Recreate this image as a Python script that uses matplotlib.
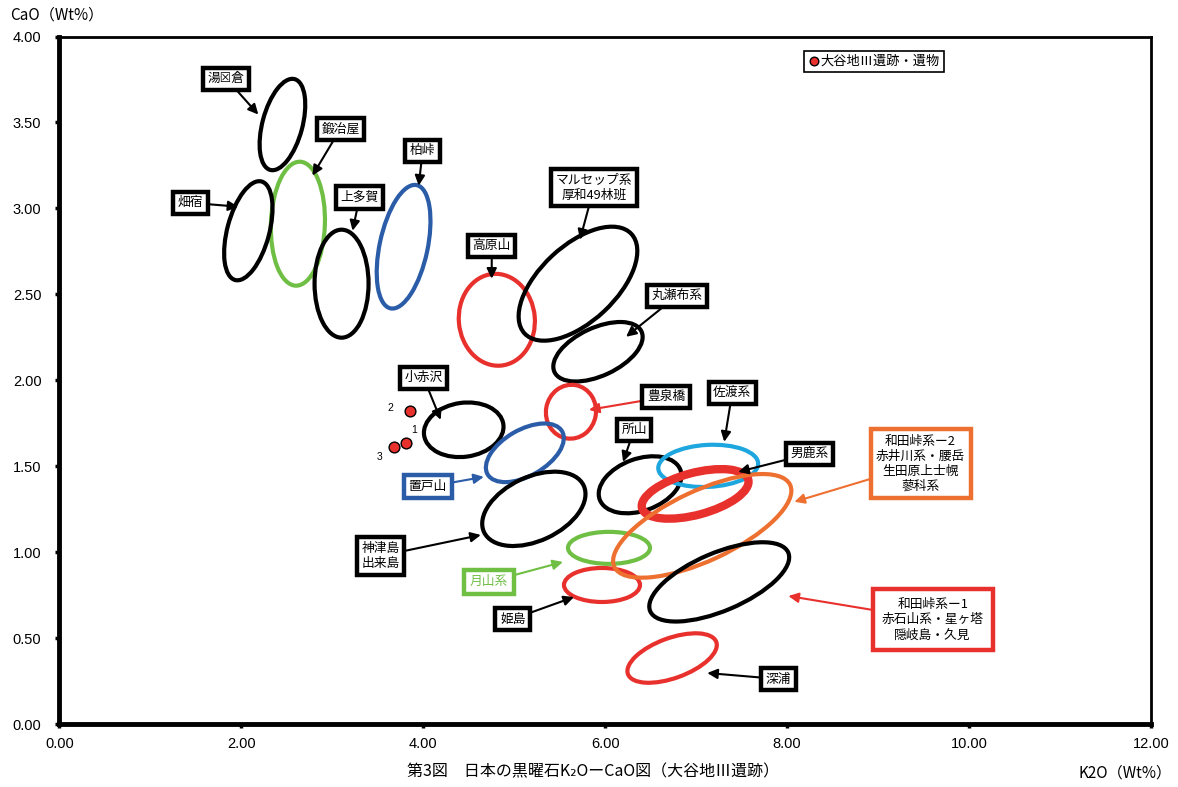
import matplotlib
matplotlib.use("Agg")
import matplotlib.pyplot as plt
from matplotlib.patches import Ellipse
from matplotlib.transforms import ScaledTranslation
import numpy as np

# ---------------- data ----------------
# obsidian source ellipses (K2O, CaO centres)
src_names = ["湯倉", "鍛冶屋", "畑宿", "上多賀", "柏峠", "高原山", "マルセップ系", "丸瀬布系",
             "豊泉橋", "小赤沢", "置戸山", "神津島", "月山系", "姫島", "所山", "佐渡系",
             "男鹿系", "和田峠系-2", "和田峠系-1", "深浦"]
src_k2o = [2.451, 2.621, 2.076, 3.101, 3.783, 4.808, 5.700, 5.920,
           5.623, 4.444, 5.116, 5.215, 6.041, 5.964, 6.383, 7.132,
           6.988, 7.066, 7.253, 6.735]
src_cao = [3.488, 2.911, 2.870, 2.562, 2.777, 2.352, 2.562, 2.166,
           1.817, 1.712, 1.578, 1.252, 1.025, 0.809, 1.392, 1.502,
           1.339, 1.153, 0.827, 0.384]
# ellipse semi-axes (display px) and tilt (deg)
src_a = [47, 62, 51, 54, 63, 46, 73, 48, 27, 40, 43, 55, 41, 38, 43, 50, 55, 97, 75, 47]
src_b = [20, 27, 21, 27, 24, 38, 38, 24, 25, 27, 23, 32, 16, 17, 26, 21, 21, 35, 29, 20]
src_ang = [75, 88, 75, 90, 78, 95, 43, 25, 80, 8, 30, 25, 0, 0, 20, 3, 15, 25, 23, 20]

# site artefacts
art_k2o = [3.806, 3.850, 3.673]
art_cao = [1.636, 1.822, 1.613]
art_no = ["1", "2", "3"]

# label texts, positions and arrow targets (data units)
lab_text = ["湯☒倉", "鍛冶屋", "畑宿", "上多賀", "柏峠", "高原山", "マルセップ系\n厚和49林班",
            "丸瀬布系", "豊泉橋", "佐渡系", "所山", "男鹿系",
            "和田峠系ー2\n赤井川系・腰岳\n生田原上士幌\n蓼科系",
            "和田峠系ー1\n赤石山系・星ヶ塔\n隠岐島・久見",
            "深浦", "姫島", "月山系", "神津島\n出来島", "置戸山", "小赤沢"]
lab_x = [1.834, 3.090, 1.437, 3.299, 3.993, 4.752, 5.876, 6.790, 6.669, 7.396, 6.317, 8.244,
         9.467, 9.599, 7.903, 4.984, 4.720, 3.530, 4.048, 4.003]
lab_y = [3.755, 3.464, 3.033, 3.063, 3.336, 2.783, 3.121, 2.492, 1.904, 1.927, 1.712, 1.572,
         1.514, 0.606, 0.262, 0.611, 0.827, 0.978, 1.380, 2.015]
tip_x = [2.186, 2.781, 1.966, 3.222, 3.949, 4.752, 5.722, 6.229, 5.821, 7.308, 6.196, 7.462,
         8.079, 8.013, 7.121, 5.656, 5.535, 4.632, 4.665, 4.191]
tip_y = [3.546, 3.191, 3.010, 2.870, 3.132, 2.591, 2.818, 2.253, 1.828, 1.642, 1.525, 1.467,
         1.293, 0.745, 0.297, 0.739, 0.943, 1.100, 1.438, 1.770]

x_ticks = [0, 2, 4, 6, 8, 10, 12]
y_ticks = [0, 0.5, 1.0, 1.5, 2.0, 2.5, 3.0, 3.5, 4.0]

# ---------------- styles ----------------
BLACK = "#000000"
RED = "#E8302C"
GREEN = "#70BF45"
BLUE = "#2B5CA8"
CYAN = "#1EA6DE"
ORANGE = "#EE7031"
src_col = [BLACK, GREEN, BLACK, BLACK, BLUE, RED, BLACK, BLACK, RED, BLACK, BLUE, BLACK,
           GREEN, RED, BLACK, CYAN, RED, ORANGE, BLACK, RED]
src_lw = [3] * 20
src_lw[16] = 6
# label box / arrow colours
lab_edge = [BLACK] * 20
lab_arrow = [BLACK] * 20
lab_tcol = [BLACK] * 20
lab_pad = [0.36] * 20
lab_lw = [3.2] * 20
lab_arrow[8] = RED
lab_edge[12] = ORANGE; lab_arrow[12] = ORANGE; lab_pad[12] = 0.42
lab_edge[13] = RED; lab_arrow[13] = RED; lab_pad[13] = 0.7
lab_edge[16] = GREEN; lab_arrow[16] = GREEN; lab_tcol[16] = GREEN; lab_pad[16] = 0.45
lab_edge[18] = BLUE; lab_arrow[18] = BLUE; lab_pad[18] = 0.38

JP = ["Noto Sans CJK JP", "DejaVu Sans"]
NUM = ["Liberation Sans", "Noto Sans CJK JP"]

fig = plt.figure(figsize=(11.78, 7.87), dpi=100)
ax = fig.add_axes([0.0505, 0.080, 0.9266, 0.8736])
ax.set_xlim(0, 12)
ax.set_ylim(0, 4)

for i in range(len(src_names)):
    tr = fig.dpi_scale_trans + ScaledTranslation(src_k2o[i], src_cao[i], ax.transData)
    e = Ellipse((0, 0), width=2 * src_a[i] / 100, height=2 * src_b[i] / 100, angle=src_ang[i],
                transform=tr, fill=False, edgecolor=src_col[i], linewidth=src_lw[i], zorder=3)
    ax.add_patch(e)

for i in range(len(lab_text)):
    ax.annotate(lab_text[i], xy=(tip_x[i], tip_y[i]), xytext=(lab_x[i], lab_y[i]),
                ha="center", va="center", fontsize=9.2, family=JP, color=lab_tcol[i],
                linespacing=1.2, zorder=6,
                bbox=dict(boxstyle="square,pad=%.2f" % lab_pad[i], fc="white",
                          ec=lab_edge[i], lw=lab_lw[i]),
                arrowprops=dict(arrowstyle="-|>,head_length=0.65,head_width=0.32",
                                color=lab_arrow[i], lw=1.5, shrinkA=0, shrinkB=0))

ax.scatter(art_k2o, art_cao, s=60, c=RED, edgecolors="black", linewidths=1.0, zorder=7,
           label="大谷地Ⅲ遺跡・遺物")
num_off = [(6, 9), (-14, 2), (-10, -7)]
for i in range(len(art_no)):
    ax.annotate(art_no[i], (art_k2o[i], art_cao[i]), xytext=num_off[i], textcoords="offset points",
                ha="center", va="center", fontsize=7.5, family=NUM, zorder=7)

leg = ax.legend(loc="center", bbox_to_anchor=(0.746, 0.964), prop={"family": JP, "size": 9.5},
                frameon=True, fancybox=False, edgecolor="black", framealpha=1,
                borderpad=0.3, handletextpad=0.0, handlelength=1.0, borderaxespad=0,
                markerscale=0.8)
leg.get_frame().set_linewidth(1.2)

ax.set_xticks(x_ticks)
ax.set_yticks(y_ticks)
ax.set_xticklabels(["%.2f" % v for v in x_ticks], family=NUM, fontsize=10.5)
ax.set_yticklabels(["%.2f" % v for v in y_ticks], family=NUM, fontsize=10.5)
ax.tick_params(axis="both", direction="out", length=3, width=2.5, color="black")
ax.tick_params(axis="y", pad=10)
ax.tick_params(axis="x", pad=6)
ax.spines["left"].set_linewidth(3.5)
ax.spines["bottom"].set_linewidth(3.5)
ax.spines["top"].set_linewidth(2)
ax.spines["right"].set_linewidth(2)

fig.text(10 / 1178, 1 - 15 / 787, "CaO（Wt%）", ha="left", va="center", fontsize=11, family=JP)
fig.text(1172 / 1178, 1 - 773 / 787, "K2O（Wt%）", ha="right", va="center", fontsize=11, family=JP)
fig.text(593 / 1178, 1 - 772 / 787, "第3図　日本の黒曜石K₂OーCaO図（大谷地Ⅲ遺跡）", ha="center",
         va="center", fontsize=11.5, family=JP)

fig.savefig("out.png", dpi=100)
